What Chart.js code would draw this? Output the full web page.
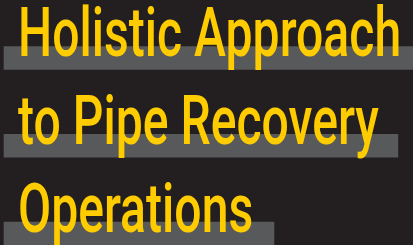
<!DOCTYPE html>
<html>
<head>
<meta charset="utf-8">
<script src="https://cdn.jsdelivr.net/npm/chart.js@4"></script>
<style>
  html, body { margin: 0; padding: 0; background: #231f20; }
  #wrap { width: 413px; height: 245px; position: relative; }
</style>
</head>
<body>
<div id="wrap"><canvas id="chart"></canvas></div>
<script>
const titleLines = ['Holistic Approach', 'to Pipe Recovery', 'Operations']
const barLengths = [100, 96.3, 66]

// draws each title line over its bar, squeezed to look like a condensed face
const titleText = {
  id: 'titleText',
  afterDatasetsDraw(chart) {
    const ctx = chart.ctx
    const y = chart.scales.y
    ctx.save()
    ctx.font = '500 69px Roboto'
    ctx.fillStyle = '#ffcc00'
    ctx.textBaseline = 'alphabetic'
    const m = ctx.measureText(titleLines[0])
    const squeeze = 378 / (m.actualBoundingBoxLeft + m.actualBoundingBoxRight)
    titleLines.forEach((line, i) => {
      ctx.save()
      ctx.translate(18, y.getPixelForValue(i) - 2)
      ctx.scale(squeeze, 1)
      ctx.fillText(line, 0, 0)
      ctx.restore()
    })
    ctx.restore()
  }
}

new Chart(document.getElementById('chart'), {
  type: 'bar',
  data: {
    labels: titleLines,
    datasets: [{
      data: barLengths,
      backgroundColor: '#58595b',
      barThickness: 23,
      clip: false
    }]
  },
  options: {
    indexAxis: 'y',
    responsive: true,
    maintainAspectRatio: false,
    animation: false,
    layout: { padding: { left: 4, right: 0, top: 58, bottom: 11.5 } },
    plugins: { legend: { display: false }, tooltip: { enabled: false } },
    scales: {
      x: { display: false, min: 0, max: 100 },
      y: { display: false, offset: false }
    }
  },
  plugins: [titleText]
})
</script>
</body>
</html>
